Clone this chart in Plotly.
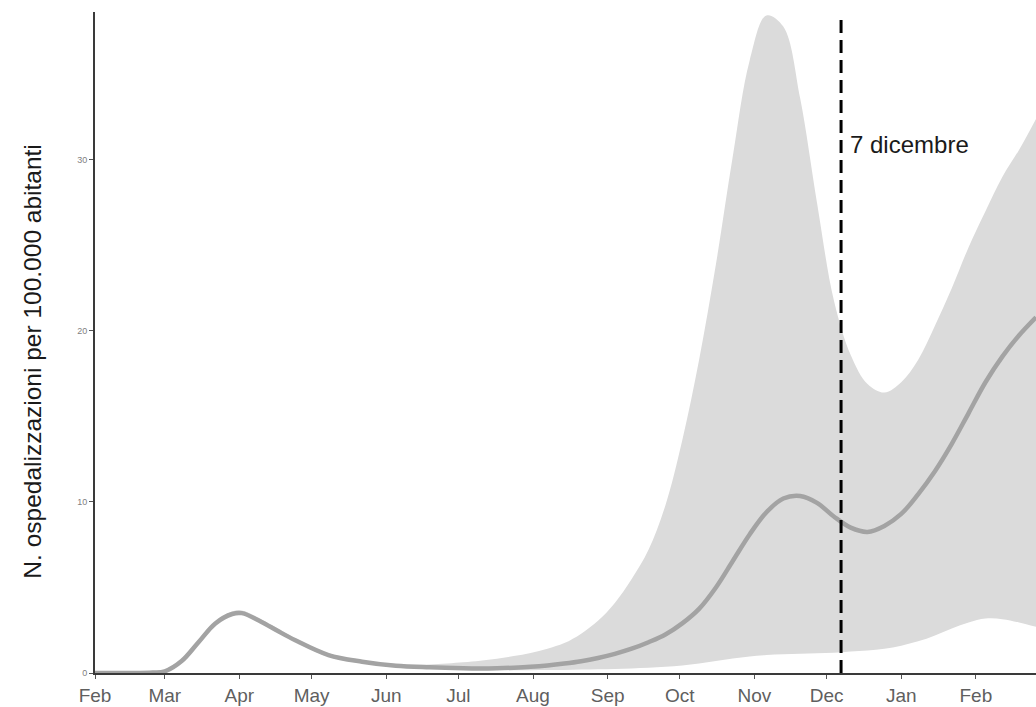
import plotly.graph_objects as go

# ---- data ----
dates = [
    "2020-02-01", "2020-02-15", "2020-02-25", "2020-03-01", "2020-03-08",
    "2020-03-15", "2020-03-22", "2020-03-29", "2020-04-02", "2020-04-10",
    "2020-04-17", "2020-04-24", "2020-05-08", "2020-05-22", "2020-06-05",
    "2020-06-19",
    "2020-07-03", "2020-07-10", "2020-07-17", "2020-07-24", "2020-07-31",
    "2020-08-07", "2020-08-14", "2020-08-21", "2020-08-28", "2020-09-04",
    "2020-09-11", "2020-09-18", "2020-09-25", "2020-10-02", "2020-10-09",
    "2020-10-16", "2020-10-23", "2020-10-30", "2020-11-06", "2020-11-13",
    "2020-11-20", "2020-11-27", "2020-12-04", "2020-12-11", "2020-12-18",
    "2020-12-25", "2021-01-01", "2021-01-08", "2021-01-15", "2021-01-22",
    "2021-01-29", "2021-02-05", "2021-02-12", "2021-02-19", "2021-02-26",
]
median = [
    0.0, 0.0, 0.03, 0.1, 0.7,
    1.8, 2.9, 3.45, 3.5, 3.0,
    2.45, 1.93, 1.05, 0.66, 0.42,
    0.33,
    0.28, 0.27, 0.28, 0.31, 0.36,
    0.44, 0.55, 0.69, 0.88, 1.12,
    1.42, 1.8, 2.25, 2.9, 3.75,
    5.0, 6.55, 8.1, 9.4, 10.2,
    10.35, 9.95, 9.15, 8.5, 8.25,
    8.6, 9.3, 10.45, 11.8, 13.4,
    15.2, 17.0, 18.5, 19.75, 20.8,
]
upper = [
    0.0, 0.0, 0.05, 0.15, 0.8,
    1.9, 3.0, 3.6, 3.65, 3.15,
    2.6, 2.05, 1.15, 0.76, 0.52,
    0.5,
    0.63, 0.72, 0.84, 0.99, 1.17,
    1.42, 1.75, 2.3, 3.05, 4.1,
    5.5, 7.2, 9.8, 13.6, 18.3,
    23.9, 30.2, 35.8, 38.45, 37.8,
    33.6, 27.5, 21.8, 18.6, 16.9,
    16.4, 17.0, 18.3, 20.3, 22.5,
    24.9, 27.0, 29.0, 30.6, 32.4,
]
lower = [
    0.0, 0.0, 0.02, 0.08, 0.6,
    1.7, 2.8, 3.35, 3.4, 2.9,
    2.35, 1.83, 0.95, 0.57, 0.34,
    0.25,
    0.2, 0.18, 0.17, 0.16, 0.16,
    0.17, 0.18, 0.2, 0.22, 0.24,
    0.27, 0.3, 0.36, 0.44, 0.55,
    0.7, 0.85, 0.97, 1.05, 1.1,
    1.13, 1.15, 1.18, 1.25, 1.32,
    1.42, 1.6, 1.85, 2.2, 2.6,
    2.95, 3.18, 3.15, 2.95, 2.7,
]
tick_dates = [
    "2020-02-01", "2020-03-01", "2020-04-01", "2020-05-01", "2020-06-01",
    "2020-07-01", "2020-08-01", "2020-09-01", "2020-10-01", "2020-11-01",
    "2020-12-01", "2021-01-01", "2021-02-01",
]
tick_labels = ["Feb", "Mar", "Apr", "May", "Jun", "Jul", "Aug", "Sep",
               "Oct", "Nov", "Dec", "Jan", "Feb"]
y_ticks = [0, 10, 20, 30]
event_date = "2020-12-07"
event_label = "7 dicembre"
y_title = "N. ospedalizzazioni per 100.000 abitanti"

FONT = "Liberation Sans, Arial, Helvetica, sans-serif"
SMOOTH = 1.0

fig = go.Figure()
fig.add_trace(go.Scatter(
    x=dates, y=lower, mode="lines",
    line=dict(width=0, color="rgba(0,0,0,0)", shape="spline", smoothing=SMOOTH),
    showlegend=False, hoverinfo="skip",
))
fig.add_trace(go.Scatter(
    x=dates, y=upper, mode="lines", fill="tonexty",
    fillcolor="#dbdbdb",
    line=dict(width=0, color="rgba(0,0,0,0)", shape="spline", smoothing=SMOOTH),
    showlegend=False, hoverinfo="skip",
))
fig.add_trace(go.Scatter(
    x=dates, y=median, mode="lines",
    line=dict(width=4.5, color="#a3a3a3", shape="spline", smoothing=SMOOTH),
    showlegend=False,
))

fig.add_shape(
    type="line", xref="x", yref="y",
    x0=event_date, x1=event_date, y0=0, y1=38.2,
    line=dict(color="black", width=3, dash="13px,7px"),
)
fig.add_annotation(
    x=event_date, y=30.9, xref="x", yref="y",
    text=event_label, showarrow=False,
    xanchor="left", yanchor="middle", xshift=7,
    font=dict(family=FONT, size=24, color="#1a1a1a"),
)
fig.add_annotation(
    xref="paper", yref="paper", x=0, y=0.471,
    xanchor="center", yanchor="middle", xshift=-62,
    text=y_title, textangle=-90, showarrow=False,
    font=dict(family=FONT, size=24.5, color="#1a1a1a"),
)

fig.update_layout(
    width=1036, height=707,
    margin=dict(l=95, r=0, t=12, b=34),
    paper_bgcolor="white", plot_bgcolor="white",
    font=dict(family=FONT),
    showlegend=False,
)
fig.update_xaxes(
    type="date",
    range=["2020-02-01", "2021-02-26"],
    tickmode="array", tickvals=tick_dates, ticktext=tick_labels,
    showgrid=False, zeroline=False,
    showline=True, linecolor="#3a3a3a", linewidth=1.8,
    ticks="outside", ticklen=4, tickwidth=1.2, tickcolor="#555555",
    tickfont=dict(family=FONT, size=19, color="#5f5f5f"),
)
fig.update_yaxes(
    range=[0, 38.65],
    tickmode="array", tickvals=y_ticks,
    showgrid=False, zeroline=False,
    showline=True, linecolor="#3a3a3a", linewidth=1.8,
    ticks="outside", ticklen=4, tickwidth=1.2, tickcolor="#555555",
    tickfont=dict(family=FONT, size=9, color="#7f7f7f"),
)

fig.write_html(
    "out.html",
    config={"displayModeBar": False},
    post_script=(
        "document.body.style.margin='0';"
        "document.body.style.padding='0';"
        "document.body.style.overflow='hidden';"
        "document.documentElement.style.overflow='hidden';"
    ),
)
